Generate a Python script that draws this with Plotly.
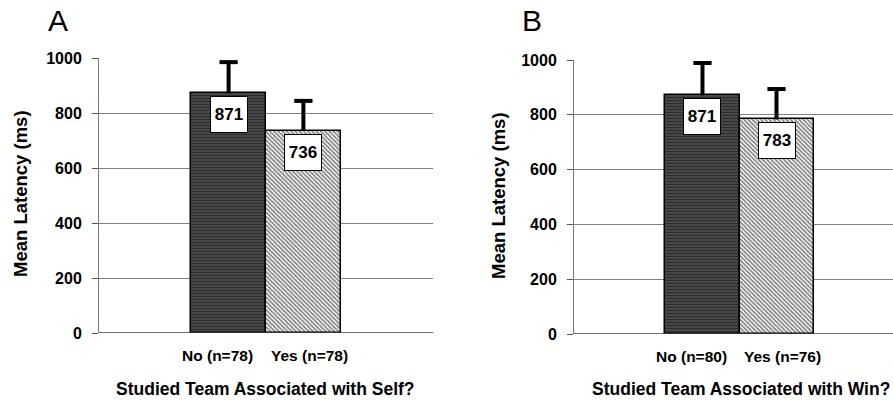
import plotly.graph_objects as go

# Panel A
cats_a = ["No (n=78)", "Yes (n=78)"]
means_a = [871, 736]
err_a = [114, 108]
# Panel B
cats_b = ["No (n=80)", "Yes (n=76)"]
means_b = [871, 783]
err_b = [118, 111]

yticks = [0, 200, 400, 600, 800, 1000]

FONT = "Liberation Sans, Arial, sans-serif"

fig = go.Figure()

def add_panel(cats, means, errs, xa, ya):
    patterns = [
        dict(shape="-", fgcolor="black", bgcolor="#5a5a5a", size=3, solidity=0.6),
        dict(shape="\\", fgcolor="black", bgcolor="white", size=3, solidity=0.55),
    ]
    label_shift = [-11, 6]
    for i in range(2):
        fig.add_trace(go.Bar(
            x=[cats[i]], y=[means[i]], xaxis=xa, yaxis=ya,
            width=1.0, offset=-0.5,
            marker=dict(color="white", pattern=patterns[i],
                        line=dict(color="black", width=1.5)),
            showlegend=False, hoverinfo="skip",
        ))
        # upper error bar: stem + cap
        top = means[i] + errs[i]
        fig.add_trace(go.Scatter(
            x=[cats[i], cats[i]], y=[means[i], top], xaxis=xa, yaxis=ya,
            mode="lines", line=dict(color="black", width=4),
            showlegend=False, hoverinfo="skip",
        ))
        fig.add_trace(go.Scatter(
            x=[cats[i]], y=[top], xaxis=xa, yaxis=ya,
            mode="markers", marker=dict(symbol="line-ew", size=13,
                                        line=dict(color="black", width=4)),
            showlegend=False, hoverinfo="skip",
        ))
        fig.add_annotation(
            x=cats[i], y=means[i], xref=xa, yref=ya, yanchor="top", yshift=-3,
            text="<b>%d</b>" % means[i], showarrow=False,
            font=dict(family=FONT, size=17, color="black"),
            width=34, height=33, align="center", valign="middle",
            bgcolor="white", bordercolor="black", borderwidth=1, borderpad=1,
        )
        # category label
        fig.add_annotation(
            x=cats[i], y=0, xref=xa, yref=ya, yanchor="middle", yshift=-22,
            xshift=label_shift[i], text="<b>%s</b>" % cats[i], showarrow=False,
            font=dict(family=FONT, size=15.5, color="black"),
        )

add_panel(cats_a, means_a, err_a, "x", "y")
add_panel(cats_b, means_b, err_b, "x2", "y2")

W, H = 893, 401
def dx(px):
    return px / W
def dy(py):
    return 1 - py / H

xaxis_common = dict(
    type="category", showgrid=False, zeroline=False, showline=False, ticks="",
    showticklabels=False, fixedrange=True, automargin=False,
)
yaxis_common = dict(
    range=[0, 1000], tickvals=yticks, showgrid=True, gridcolor="#808080", gridwidth=1,
    zeroline=False, showline=True, linecolor="#7a7a7a", linewidth=1,
    ticks="outside", ticklen=6, tickcolor="#555", tickwidth=1,
    tickfont=dict(family=FONT, size=16, color="black", weight="bold"),
    ticklabelstandoff=7, fixedrange=True, automargin=False,
)

fig.update_layout(
    width=W, height=H, margin=dict(l=0, r=0, t=0, b=0, autoexpand=False),
    paper_bgcolor="white", plot_bgcolor="white",
    barmode="overlay", bargap=0,
    xaxis=dict(domain=[dx(99), dx(433)], range=[-1.733, 2.733], anchor="y", **xaxis_common),
    yaxis=dict(domain=[dy(333), dy(58)], anchor="x", **yaxis_common),
    xaxis2=dict(domain=[dx(574), 1.0], range=[-1.736, 2.574], anchor="y2", **xaxis_common),
    yaxis2=dict(domain=[dy(334), dy(60)], anchor="x2", **yaxis_common),
)

# zero baselines
for xa, ya in [("x", "y"), ("x2", "y2")]:
    fig.add_shape(type="line", xref=xa + " domain", yref=ya, x0=0, x1=1, y0=0, y1=0,
                  line=dict(color="#444", width=1.5))

def ann(text, x, y, size, angle=0, bold=True):
    fig.add_annotation(
        x=dx(x), y=dy(y), xref="paper", yref="paper", xanchor="center", yanchor="middle",
        text=("<b>%s</b>" % text) if bold else text, showarrow=False, textangle=angle,
        font=dict(family=FONT, size=size, color="black"),
    )

ann("A", 58, 21, 30, bold=False)
ann("B", 532, 21, 30, bold=False)
ann("Mean Latency (ms)", 20, 194, 18.5, angle=-90)
ann("Mean Latency (ms)", 498, 196, 18.5, angle=-90)
ann("Studied Team Associated with Self?", 265, 389, 17.5)
ann("Studied Team Associated with Win?", 741, 389, 17.5)

fig.write_html("out.html")
